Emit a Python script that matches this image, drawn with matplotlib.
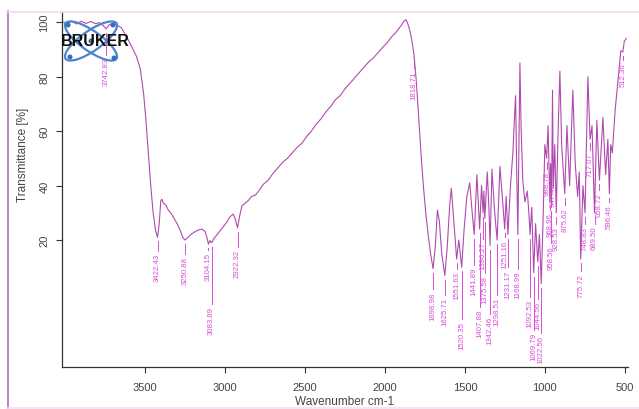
import numpy as np
import matplotlib
matplotlib.use("Agg")
import matplotlib.pyplot as plt
from matplotlib.patches import Ellipse, Circle
from matplotlib.lines import Line2D

plt.rcParams['font.family'] = ['Liberation Sans', 'DejaVu Sans']

# FTIR spectrum (wavenumber cm-1, transmittance %)
wavenumber = [4015, 3985, 3960, 3930, 3900, 3870, 3840, 3810, 3785, 3760, 3742.83, 3725, 3700,
              3675, 3650, 3637, 3610, 3580, 3555, 3531, 3510, 3495, 3480, 3465, 3450, 3435,
              3422.43, 3412, 3402, 3395, 3385, 3370, 3355, 3340, 3320, 3300, 3280, 3265,
              3250.88, 3235, 3215, 3195, 3170, 3145, 3125, 3112, 3104.15, 3095, 3083.89, 3070,
              3050, 3030, 3010, 2990, 2970, 2950, 2938, 2922.32, 2910, 2895, 2875, 2855, 2835,
              2810, 2790, 2760, 2730, 2700, 2670, 2640, 2610, 2580, 2550, 2520, 2490, 2460,
              2430, 2400, 2370, 2340, 2310, 2280, 2250, 2220, 2190, 2160, 2130, 2100, 2070,
              2040, 2010, 1985, 1960, 1935, 1915, 1895, 1880, 1868, 1858, 1845, 1832, 1818.71,
              1805, 1790, 1775, 1760, 1745, 1730, 1715, 1698.98, 1685, 1672, 1660, 1645,
              1625.71, 1610, 1595, 1585, 1572, 1551.63, 1538, 1520.35, 1505, 1488, 1470, 1456,
              1441.89, 1425, 1407.88, 1396, 1386.27, 1381, 1375.58, 1360, 1350, 1342.46, 1331,
              1315, 1298.51, 1281, 1265, 1251.16, 1242, 1231.17, 1215, 1200, 1190, 1183, 1176,
              1168.99, 1162, 1156, 1148, 1138, 1125, 1110, 1100, 1092.53, 1082, 1069.79, 1058,
              1044.56, 1034, 1022.56, 1010, 1000, 988.78, 980, 968.96, 964, 958.56, 952,
              947.43, 938, 928.53, 918, 906, 895, 875.62, 862, 845, 825, 810, 795, 785,
              775.72, 762, 748.83, 731, 717.07, 705, 689.50, 675, 658.72, 637, 620, 606,
              596.46, 588, 578, 560, 540, 525, 512.36, 503, 490]
transmittance = [100.0, 99.6, 100.4, 99.3, 100.3, 99.5, 100.2, 99.4, 99.8, 98.6, 97.5, 99.0, 99.6,
                 98.8, 98.0, 96.7, 94.0, 90.5, 87.5, 83.0, 74.0, 64.0, 52.0, 40.0, 30.0, 23.5,
                 21.0, 26.0, 34.5, 35.0, 33.5, 32.8, 31.0, 30.0, 28.0, 26.0, 23.5, 21.0,
                 20.0, 20.8, 22.0, 22.8, 23.6, 24.0, 23.2, 20.5, 18.5, 19.8, 19.0, 20.5,
                 22.0, 23.5, 25.0, 26.5, 28.5, 29.5, 28.0, 24.5, 28.5, 32.5, 33.5, 34.5, 36.0,
                 36.5, 38.0, 40.5, 42.0, 44.5, 46.5, 48.5, 50.0, 52.0, 54.0, 55.5, 58.0, 60.0,
                 62.5, 64.5, 67.0, 69.0, 71.5, 73.0, 75.5, 77.5, 79.5, 81.5, 83.5, 85.5, 87.0,
                 89.0, 91.0, 92.5, 94.5, 96.0, 97.5, 99.0, 100.5, 100.8, 99.5, 97.0, 93.5, 88.0,
                 79.0, 66.0, 52.0, 40.0, 30.0, 22.0, 15.0, 9.5, 18.0, 31.0, 27.0, 15.0,
                 7.0, 18.0, 33.0, 39.0, 29.0, 13.0, 20.0, 10.0, 24.0, 36.0, 41.0, 31.0,
                 22.0, 44.0, 24.0, 40.0, 30.0, 38.0, 28.0, 45.0, 32.0, 18.0, 46.0,
                 31.0, 20.0, 47.0, 35.0, 24.0, 36.0, 22.0, 40.0, 52.0, 65.0, 73.0, 45.0,
                 22.0, 55.0, 85.0, 60.0, 42.0, 34.0, 38.0, 30.0, 22.0, 32.0, 8.0, 26.0,
                 12.0, 22.0, 4.0, 30.0, 55.0, 50.0, 62.0, 34.0, 48.0, 32.0, 75.0,
                 39.0, 55.0, 30.0, 58.0, 82.0, 55.0, 37.0, 62.0, 40.0, 75.0, 48.0, 36.0, 45.0,
                 13.0, 40.0, 30.0, 80.0, 57.0, 62.0, 30.0, 64.0, 42.0, 65.0, 44.0, 57.0,
                 37.0, 55.0, 52.0, 68.0, 80.0, 89.5, 89.0, 93.0, 94.0]

# picked peaks and where their labels start
peak_wn = [3742.83, 3422.43, 3250.88, 3104.15, 3083.89, 2922.32, 1818.71, 1698.98, 1625.71,
           1551.63, 1520.35, 1441.89, 1407.88, 1386.27, 1375.58, 1342.46, 1298.51, 1251.16,
           1231.17, 1168.99, 1092.53, 1069.79, 1044.56, 1022.56, 988.78, 968.96, 958.56,
           947.43, 928.53, 875.62, 775.72, 748.83, 717.07, 689.50, 658.72, 596.46, 512.36]
label_top = [88, 16, 15, 16.5, -3.5, 17.5, 83, 2, 0,
             9.5, -9, 11, -4.5, 20.5, 8, -7, 0, 21,
             10, 9.5, -1, -13, -1.5, -14, 46, 31, 19,
             42, 26, 33, 8.5, 26, 53, 26, 38.5, 34, 86]

xticks = [3500, 3000, 2500, 2000, 1500, 1000, 500]
yticks = [20, 40, 60, 80, 100]

line_col = '#b04ab0'
label_col = '#d84cd8'

fig = plt.figure(figsize=(6.39, 4.10), dpi=100)
ax = fig.add_axes([62/639, 42/410, 566/639, 355/410])

ax.plot(wavenumber, transmittance, color=line_col, lw=0.8, zorder=3)

for wn, top in zip(peak_wn, label_top):
    t = transmittance[wavenumber.index(wn)]
    if t - 1.5 > top:
        ax.plot([wn, wn], [t - 1.5, top], color=label_col, lw=0.7, zorder=2)
    ax.text(wn, top - 0.8, f"{wn:.2f}", rotation=90, ha='center', va='top',
            fontsize=5.6, color=label_col, zorder=4)

ax.set_xlim(4020, 480)
ax.set_ylim(-26.6, 103.7)
ax.set_xticks(xticks)
ax.set_yticks(yticks)
ax.set_yticklabels([str(v) for v in yticks], rotation=90, va='center')
ax.tick_params(axis='both', direction='out', length=4, width=0.8, colors='#333333',
               labelsize=8, labelcolor='#444444')
ax.tick_params(axis='x', pad=7)
ax.tick_params(axis='y', pad=5)
for side in ['top', 'right']:
    ax.spines[side].set_visible(False)
for side in ['left', 'bottom']:
    ax.spines[side].set_color('#333333')
    ax.spines[side].set_linewidth(0.9)
ax.set_xlabel('Wavenumber cm-1', fontsize=8.5, color='#444444', labelpad=2)
ax.set_ylabel('Transmittance [%]', fontsize=8.5, color='#444444', labelpad=4)
ax.yaxis.set_label_coords(-0.058, 0.6)

# logo in the upper left corner
logo = fig.add_axes([58/639, 1 - 70/410, 75/639, 52/410])
logo.set_xlim(0, 75)
logo.set_ylim(52, 0)
logo.axis('off')
logo.patch.set_alpha(0)
for ang in [35, -35]:
    logo.add_patch(Ellipse((33, 24), 62, 20, angle=ang, fill=False,
                           edgecolor='#4a86cc', lw=1.6))
for cx, cy in [(10, 8), (56, 41), (12, 40), (55, 8), (33, 24)]:
    logo.add_patch(Circle((cx, cy), 1.8, color='#2f6fbf'))
logo.text(37, 24, 'BRUKER', ha='center', va='center', fontsize=11.5,
          fontweight='bold', color='#111111')

# page frame
fig.add_artist(Line2D([7.5/639, 7.5/639], [0, 1 - 12/410], color='#b070b8', lw=1.2))
fig.add_artist(Line2D([7/639, 1], [1 - 12.5/410, 1 - 12.5/410], color='#f2d8f2', lw=1.2))
fig.add_artist(Line2D([7/639, 1], [1/410, 1/410], color='#f4e0f4', lw=1.2))

fig.savefig('out.png', dpi=100)
